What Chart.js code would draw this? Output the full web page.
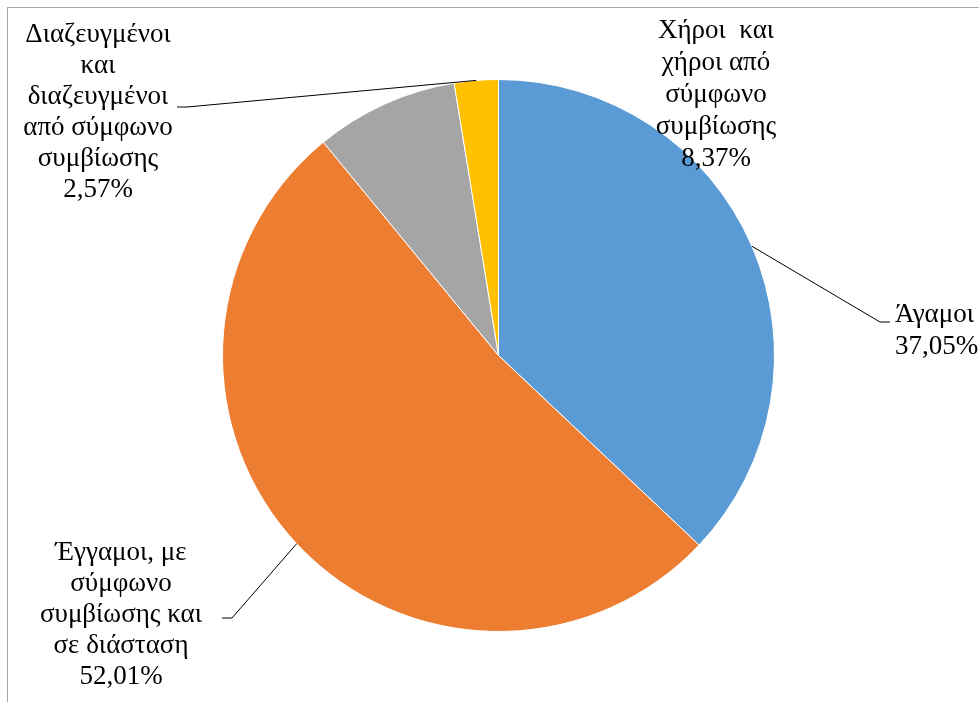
<!DOCTYPE html>
<html>
<head>
<meta charset="utf-8">
<script src="https://cdn.jsdelivr.net/npm/chart.js@4"></script>
<style>
  html, body { margin: 0; padding: 0; background: #fff; }
  #wrap { width: 979px; height: 702px; }
</style>
</head>
<body>
<div id="wrap"><canvas id="pie" width="979" height="702"></canvas></div>
<script>
// data
const categories = [
  "Άγαμοι",
  "Έγγαμοι, με σύμφωνο συμβίωσης και σε διάσταση",
  "Χήροι  και χήροι από σύμφωνο συμβίωσης",
  "Διαζευγμένοι και διαζευγμένοι από σύμφωνο συμβίωσης"
];
const values = [37.05, 52.01, 8.37, 2.57];
// how each category label wraps in the picture
const labelLines = [
  ["Άγαμοι"],
  ["Έγγαμοι, με", "σύμφωνο", "συμβίωσης και", "σε διάσταση"],
  ["Χήροι  και", "χήροι από", "σύμφωνο", "συμβίωσης"],
  ["Διαζευγμένοι", "και", "διαζευγμένοι", "από σύμφωνο", "συμβίωσης"]
];
const colors = ["#5b9bd5", "#ed7d31", "#a5a5a5", "#ffc000"];

// label placement (style only)
const labelStyle = [
  { x: 895, y: 315, align: "left", lh: 32, leader: [[880, 322], [890, 322]] },
  { x: 121, y: 553, align: "center", lh: 31, leader: [[232, 618], [222, 618]] },
  { x: 716, y: 31, align: "center", lh: 32, leader: null },
  { x: 98, y: 35, align: "center", lh: 31, leader: [[187, 107], [177, 107]] }
];

const fmt = v => v.toFixed(2).replace(".", ",") + "%";

const labelPlugin = {
  id: "outLabels",
  beforeDraw(chart) {
    const ctx = chart.ctx;
    ctx.save();
    ctx.strokeStyle = "#a6a6a6";
    ctx.lineWidth = 1;
    ctx.strokeRect(7.5, 7.5, 1200, 1200);
    ctx.restore();
  },
  afterDatasetsDraw(chart) {
    const ctx = chart.ctx;
    const arcs = chart.getDatasetMeta(0).data;
    ctx.save();
    arcs.forEach((arc, i) => {
      const st = labelStyle[i];
      if (st.leader) {
        const mid = (arc.startAngle + arc.endAngle) / 2;
        const sx = arc.x + Math.cos(mid) * arc.outerRadius;
        const sy = arc.y + Math.sin(mid) * arc.outerRadius;
        ctx.beginPath();
        ctx.strokeStyle = "#000";
        ctx.lineWidth = 1;
        ctx.moveTo(sx, sy);
        st.leader.forEach(p => ctx.lineTo(p[0], p[1]));
        ctx.stroke();
      }
      const lines = labelLines[i].concat([fmt(values[i])]);
      ctx.font = "27px 'Liberation Serif'";
      ctx.fillStyle = "#000";
      ctx.textAlign = st.align;
      ctx.textBaseline = "middle";
      lines.forEach((t, k) => ctx.fillText(t, st.x, st.y + k * st.lh));
    });
    ctx.restore();
  }
};

new Chart(document.getElementById("pie"), {
  type: "pie",
  data: {
    labels: categories,
    datasets: [
      {
        data: values,
        backgroundColor: colors,
        borderColor: "#ffffff",
        borderWidth: 1,
      },
    ],
  },
  options: {
    responsive: false,
    animation: false,
    rotation: 0,
    layout: {
      padding: { top: 79, bottom: 70, left: 222, right: 204 },
    },
    plugins: {
      legend: { display: false },
      tooltip: { enabled: false },
    },
  },
  plugins: [labelPlugin],
});
</script>
</body>
</html>
